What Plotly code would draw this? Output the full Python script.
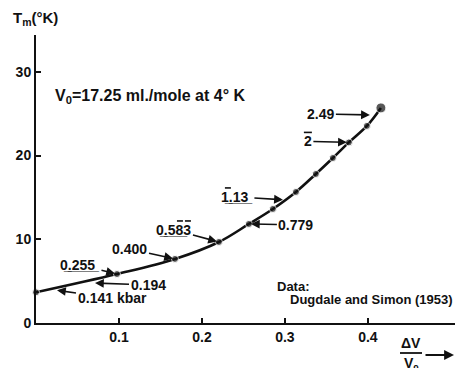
import plotly.graph_objects as go

# Melting curve of solid helium: relative compression vs melting temperature
dv_over_v0 = [0.0, 0.0976, 0.1675, 0.2205, 0.2566, 0.2855, 0.3133, 0.3373, 0.3578, 0.3771, 0.3988, 0.4157]
t_melt = [3.67, 5.85, 7.65, 9.68, 11.83, 13.62, 15.65, 17.80, 19.71, 21.57, 23.54, 25.69]

# Melting pressures (kbar) written along the curve
UL = "\u0332"   # combining low line
pressure_labels = [
    "0.141 kbar",
    "0.194",
    "".join(c + UL for c in "0.255"),
    "0.400",
    "0" + UL + "." + UL + "5" + UL + "8" + UL + "3",
    "0.779",
    "1" + UL + "." + UL + "1" + UL + "3" + UL,
    "2",
    "2.49",
]
# arrow head on the curve (x, T) and text offset in pixels (dx, dy)
label_heads = [
    (0.0229, 3.94), (0.0687, 4.78), (0.0976, 5.85), (0.1675, 7.65), (0.2205, 9.68),
    (0.2566, 11.83), (0.3000, 14.70), (0.3771, 21.57), (0.4048, 24.85),
]
label_offsets = [
    (57, 8), (55, 2), (-37, -9), (-45, -10), (-45, -12),
    (47, 1), (-48, -3), (-41, -1), (-51, -1),
]
# overbars on individual digits: (label index, x0, x1, height) in pixels from the arrow head
overbars = [
    (4, -42, -36, 21), (4, -34, -28, 21),
    (6, -60, -54, 12),
    (7, -45, -37, 10),
]

x_ticks = [0.1, 0.2, 0.3, 0.4]
x_ticktext = ["0.1", "0.2", "0.3", "0.4"]
y_ticks = [0, 10, 20, 30]
y_ticktext = ["0", "10", "20", "30"]

FONT = "Liberation Sans, Arial, sans-serif"
INK = "#111111"

fig = go.Figure()

marker_sizes = [7] * (len(dv_over_v0) - 1) + [10]
fig.add_trace(go.Scatter(
    x=dv_over_v0, y=t_melt,
    mode="lines+markers",
    line=dict(color=INK, width=2.6, shape="spline", smoothing=1.0),
    marker=dict(color=INK, size=marker_sizes),
    showlegend=False, hoverinfo="skip", cliponaxis=False,
))

annotations = []
for text, (hx, hy), (dx, dy) in zip(pressure_labels, label_heads, label_offsets):
    annotations.append(dict(
        x=hx, y=hy, xref="x", yref="y", text=text,
        ax=dx, ay=dy, showarrow=True,
        arrowhead=2, arrowsize=1.1, arrowwidth=1.6, arrowcolor=INK,
        standoff=2,
        font=dict(family=FONT, size=14, color=INK, weight="bold"),
    ))

shapes = []
for idx, px0, px1, h in overbars:
    hx, hy = label_heads[idx]
    shapes.append(dict(
        type="line", xref="x", yref="y",
        xsizemode="pixel", xanchor=hx, x0=px0, x1=px1,
        ysizemode="pixel", yanchor=hy, y0=h, y1=h,
        line=dict(color=INK, width=1.6),
    ))
# fraction bar of the ΔV/V0 axis title
shapes.append(dict(type="line", xref="paper", yref="paper",
                   x0=(400 - 36) / 419, x1=(422 - 36) / 419,
                   y0=(323 - 353) / 288, y1=(323 - 353) / 288,
                   line=dict(color=INK, width=1.8)))

text_font = dict(family=FONT, size=13, color=INK, weight="bold")

annotations += [
    # axis title for the temperature axis
    dict(xref="paper", yref="paper", x=(11 - 36) / 419, y=1 + (35 - 19) / 288,
         xanchor="left", yanchor="middle", showarrow=False,
         text="T<sub>m</sub>(°K)", font=dict(family=FONT, size=15, color=INK, weight="bold")),
    dict(xref="x", yref="y", x=0.0205, y=27.0, xanchor="left", yanchor="middle",
         showarrow=False, text="V<sub>0</sub>=17.25 ml./mole at 4° K",
         font=dict(family=FONT, size=16, color=INK, weight="bold")),
    dict(xref="x", yref="y", x=0.288, y=4.4, xanchor="left", yanchor="middle",
         showarrow=False, text="Data:", font=text_font),
    dict(xref="x", yref="y", x=0.3036, y=2.75, xanchor="left", yanchor="middle",
         showarrow=False, text="Dugdale and Simon (1953)", font=text_font),
    # ΔV / V0 fraction with arrow
    dict(xref="paper", yref="paper", x=(411 - 36) / 419, y=(323 - 343) / 288,
         xanchor="center", yanchor="middle", showarrow=False, text="ΔV",
         font=dict(family=FONT, size=14, color=INK, weight="bold")),
    dict(xref="paper", yref="paper", x=(411 - 36) / 419, y=(323 - 364) / 288,
         xanchor="center", yanchor="middle", showarrow=False, text="V<sub>0</sub>",
         font=dict(family=FONT, size=14, color=INK, weight="bold")),
    dict(xref="paper", yref="paper", x=(454 - 36) / 419, y=(323 - 355) / 288,
         ax=-30, ay=0, showarrow=True, text="",
         arrowhead=2, arrowsize=1.1, arrowwidth=1.8, arrowcolor=INK),
]

fig.update_layout(
    width=455, height=368,
    margin=dict(l=36, r=0, t=35, b=45),
    paper_bgcolor="white", plot_bgcolor="white",
    annotations=annotations,
    shapes=shapes,
    xaxis=dict(
        range=[0, 0.505], showgrid=False, zeroline=False,
        showline=True, linecolor=INK, linewidth=2,
        tickvals=x_ticks, ticktext=x_ticktext,
        ticks="inside", ticklen=5, tickwidth=1.6, tickcolor=INK,
        tickfont=dict(family=FONT, size=14, color=INK, weight="bold"),
    ),
    yaxis=dict(
        range=[0, 34.4], showgrid=False, zeroline=False,
        showline=True, linecolor=INK, linewidth=2,
        tickvals=y_ticks, ticktext=y_ticktext,
        ticks="inside", ticklen=5, tickwidth=1.6, tickcolor=INK,
        tickfont=dict(family=FONT, size=14, color=INK, weight="bold"),
    ),
)

fig.write_html("out.html")
